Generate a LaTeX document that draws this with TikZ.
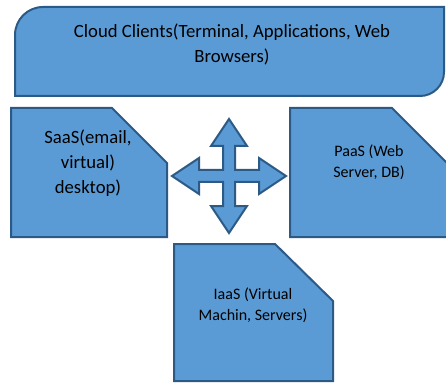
\documentclass[tikz,border=0pt]{standalone}
\usepackage{fontspec}
\setmainfont{Carlito}
\definecolor{cloudblue}{HTML}{5B9BD5}
\definecolor{cloudedge}{HTML}{2C5A86}
\tikzset{
    blockfill/.style={fill=cloudblue, draw=cloudedge, line width=2pt, line join=miter},
    bigtext/.style={font=\fontsize{18.7}{25}\selectfont, align=center, inner sep=0pt},
    smalltext/.style={font=\fontsize{16}{21}\selectfont, align=center, inner sep=0pt}
}

\begin{document}
\begin{tikzpicture}[x=1pt, y=1pt]
            \useasboundingbox (0, 0) rectangle (446, 383);
            \draw[blockfill] (15, 287) -- (15, 348) arc[start angle=180, end angle=90, radius=28]
                -- (444, 376) -- (444, 311) arc[start angle=0, end angle=-90, radius=24] -- cycle;
            \node[bigtext] (clients) at (232, 338.5) {Cloud Clients(Terminal, Applications, Web\\Browsers)};
            \draw[blockfill] (11, 146) -- (11, 275) -- (112, 275) -- (167, 220) -- (167, 146) -- cycle;
            \node[bigtext] (saas) at (88, 220) {SaaS(email,\\virtual)\\desktop)};
            \draw[blockfill] (290, 146) -- (290, 275) -- (392, 275) -- (448, 219) -- (448, 146) -- cycle;
            \node[smalltext] (paas) at (369, 220.5) {PaaS (Web\\Server, DB)};
            \draw[blockfill] (174, 2) -- (174, 139) -- (275, 139) -- (333, 82) -- (333, 2) -- cycle;
            \node[smalltext] (iaas) at (253, 77.5) {IaaS (Virtual\\Machin, Servers)};
            \begin{scope}[shift={(229, 207)}]
                \draw[blockfill] (57, 0) -- (30, 18) -- (30, 6) -- (6, 6) -- (6, 30) -- (18, 30)
                    -- (0, 57) -- (-18, 30) -- (-6, 30) -- (-6, 6) -- (-30, 6) -- (-30, 18)
                    -- (-57, 0) -- (-30, -18) -- (-30, -6) -- (-6, -6) -- (-6, -30) -- (-18, -30)
                    -- (0, -57) -- (18, -30) -- (6, -30) -- (6, -6) -- (30, -6) -- (30, -18) -- cycle;
            \end{scope}
        \end{tikzpicture}
\end{document}
